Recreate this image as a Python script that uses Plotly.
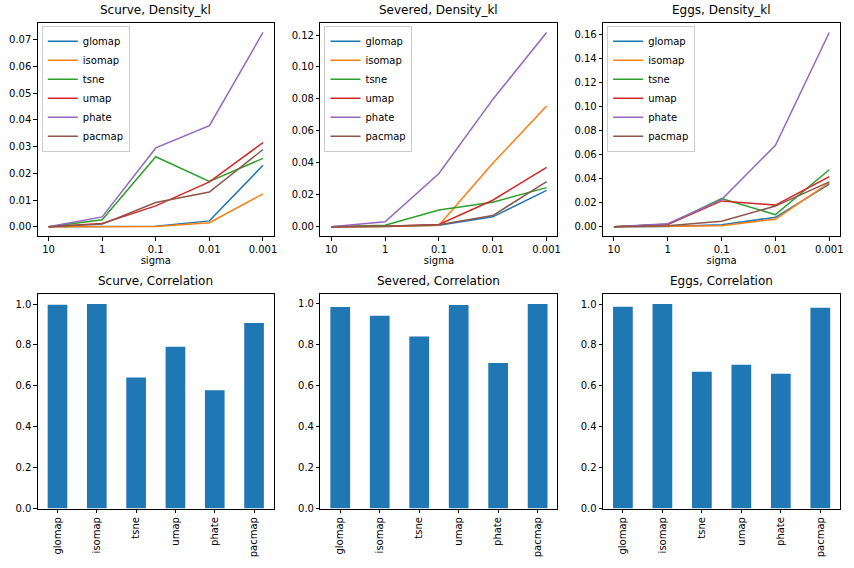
import plotly.graph_objects as go

W, H = 854, 568

sigma_labels = ["10", "1", "0.1", "0.01", "0.001"]
methods = ["glomap", "isomap", "tsne", "umap", "phate", "pacmap"]
colors = ["#1f77b4", "#ff7f0e", "#2ca02c", "#d62728", "#9467bd", "#8c564b"]

# Density_kl values per dataset (rows: methods, columns: sigma)
scurve_glomap = [0.0, 0.0, 0.0002, 0.0022, 0.0230]
scurve_isomap = [0.0, 0.0, 0.0001, 0.0015, 0.0123]
scurve_tsne = [0.0, 0.0026, 0.0262, 0.0170, 0.0256]
scurve_umap = [0.0, 0.0012, 0.0078, 0.0168, 0.0315]
scurve_phate = [0.0, 0.0037, 0.0295, 0.0378, 0.0727]
scurve_pacmap = [0.0, 0.0010, 0.0091, 0.0130, 0.0289]

severed_glomap = [0.0, 0.0001, 0.0010, 0.0062, 0.0228]
severed_isomap = [0.0, 0.0001, 0.0010, 0.0397, 0.0756]
severed_tsne = [0.0, 0.0010, 0.0105, 0.0154, 0.0245]
severed_umap = [0.0, 0.0003, 0.0014, 0.0166, 0.0372]
severed_phate = [0.0, 0.0031, 0.0333, 0.0797, 0.1216]
severed_pacmap = [0.0, 0.0003, 0.0012, 0.0070, 0.0282]

eggs_glomap = [0.0, 0.0003, 0.0016, 0.0079, 0.0354]
eggs_isomap = [0.0, 0.0001, 0.0008, 0.0063, 0.0368]
eggs_tsne = [0.0, 0.0020, 0.0234, 0.0101, 0.0474]
eggs_umap = [0.0, 0.0018, 0.0215, 0.0180, 0.0417]
eggs_phate = [0.0, 0.0025, 0.0226, 0.0678, 0.1616]
eggs_pacmap = [0.0, 0.0008, 0.0046, 0.0172, 0.0373]

# Correlation values per dataset
scurve_corr = [0.997, 1.000, 0.641, 0.791, 0.579, 0.907]
severed_corr = [0.981, 0.938, 0.837, 0.990, 0.708, 0.995]
eggs_corr = [0.987, 1.000, 0.669, 0.703, 0.659, 0.982]

datasets = ["Scurve", "Severed", "Eggs"]
density = {
    "Scurve": [scurve_glomap, scurve_isomap, scurve_tsne, scurve_umap, scurve_phate, scurve_pacmap],
    "Severed": [severed_glomap, severed_isomap, severed_tsne, severed_umap, severed_phate, severed_pacmap],
    "Eggs": [eggs_glomap, eggs_isomap, eggs_tsne, eggs_umap, eggs_phate, eggs_pacmap],
}
corr = {"Scurve": scurve_corr, "Severed": severed_corr, "Eggs": eggs_corr}
density_ticks = {"Scurve": 0.01, "Severed": 0.02, "Eggs": 0.02}

# pixel boxes of axes
col_x = [(38, 275), (322, 560), (606, 844)]
top_y = (23, 239)
bot_y = (297, 514)

def xd(a, b):
    return [a / W, b / W]

def yd(a, b):
    return [1 - b / H, 1 - a / H]

FONT = "DejaVu Sans"
fig = go.Figure()
layout = dict(
    width=W, height=H, margin=dict(l=0, r=0, t=0, b=0),
    paper_bgcolor="white", plot_bgcolor="white",
    font=dict(family=FONT, size=10, color="black"),
    annotations=[], showlegend=True,
)

axis_common = dict(showline=True, linecolor="black", linewidth=1, mirror=True,
                   ticks="outside", ticklen=3.5, tickcolor="black", tickwidth=1,
                   showgrid=False, zeroline=False, ticklabeloverflow="allow",
                   tickfont=dict(family=FONT, size=10, color="black"))

for i, ds in enumerate(datasets):
    # top line chart
    n = 2 * i + 1
    xa = "x" if n == 1 else f"x{n}"
    ya = "y" if n == 1 else f"y{n}"
    leg = "legend" if i == 0 else f"legend{i + 1}"
    allv = [v for s in density[ds] for v in s]
    lo, hi = min(allv), max(allv)
    pad = (hi - lo) * 0.05
    for m, vals, c in zip(methods, density[ds], colors):
        fig.add_trace(go.Scatter(x=sigma_labels, y=vals, mode="lines", name=m,
                                 line=dict(color=c, width=1.5), xaxis=xa, yaxis=ya,
                                 legend=leg))
    layout["xaxis" if n == 1 else f"xaxis{n}"] = dict(
        axis_common, domain=xd(*col_x[i]), anchor=ya, type="category",
        range=[-0.2, 4.2], title=dict(text="sigma", font=dict(size=10, family=FONT), standoff=2))
    layout["yaxis" if n == 1 else f"yaxis{n}"] = dict(
        axis_common, domain=yd(*top_y), anchor=xa, range=[lo - pad, hi + pad],
        dtick=density_ticks[ds], tick0=0, tickformat=".2f")
    layout[leg] = dict(x=(col_x[i][0] + 4) / W, y=1 - (top_y[0] + 3) / H,
                       xanchor="left", yanchor="top", xref="paper", yref="paper",
                       bgcolor="rgba(255,255,255,0.8)", bordercolor="#cccccc",
                       borderwidth=1, font=dict(family=FONT, size=10, color="black"),
                       tracegroupgap=0, itemwidth=30)
    layout["annotations"].append(dict(
        text=f"{ds}, Density_kl", x=(col_x[i][0] + col_x[i][1]) / 2 / W, y=1 - top_y[0] / H,
        xref="paper", yref="paper", xanchor="center", yanchor="bottom", yshift=4,
        showarrow=False, font=dict(family=FONT, size=12, color="black")))

    # bottom bar chart
    n2 = 2 * i + 2
    xa2, ya2 = f"x{n2}", f"y{n2}"
    fig.add_trace(go.Bar(x=methods, y=corr[ds], marker=dict(color="#1f77b4", line=dict(width=0)),
                         xaxis=xa2, yaxis=ya2, showlegend=False))
    layout[f"xaxis{n2}"] = dict(axis_common, domain=xd(*col_x[i]), anchor=ya2, type="category",
                                range=[-0.5, 5.5], tickangle=-90)
    layout[f"yaxis{n2}"] = dict(axis_common, domain=yd(*bot_y), anchor=xa2,
                                range=[0, max(corr[ds]) * 1.05], dtick=0.2, tick0=0, tickformat=".1f")
    layout["annotations"].append(dict(
        text=f"{ds}, Correlation", x=(col_x[i][0] + col_x[i][1]) / 2 / W, y=1 - bot_y[0] / H,
        xref="paper", yref="paper", xanchor="center", yanchor="bottom", yshift=4,
        showarrow=False, font=dict(family=FONT, size=12, color="black")))

layout["bargap"] = 0.5
fig.update_layout(**layout)
fig.write_html(
    "out.html",
    config={"displayModeBar": False},
    post_script=("document.documentElement.style.margin='0';"
                 "document.body.style.margin='0';"
                 "document.body.style.padding='0';"
                 "document.documentElement.style.overflow='hidden';"
                 "document.body.style.overflow='hidden';"),
)
